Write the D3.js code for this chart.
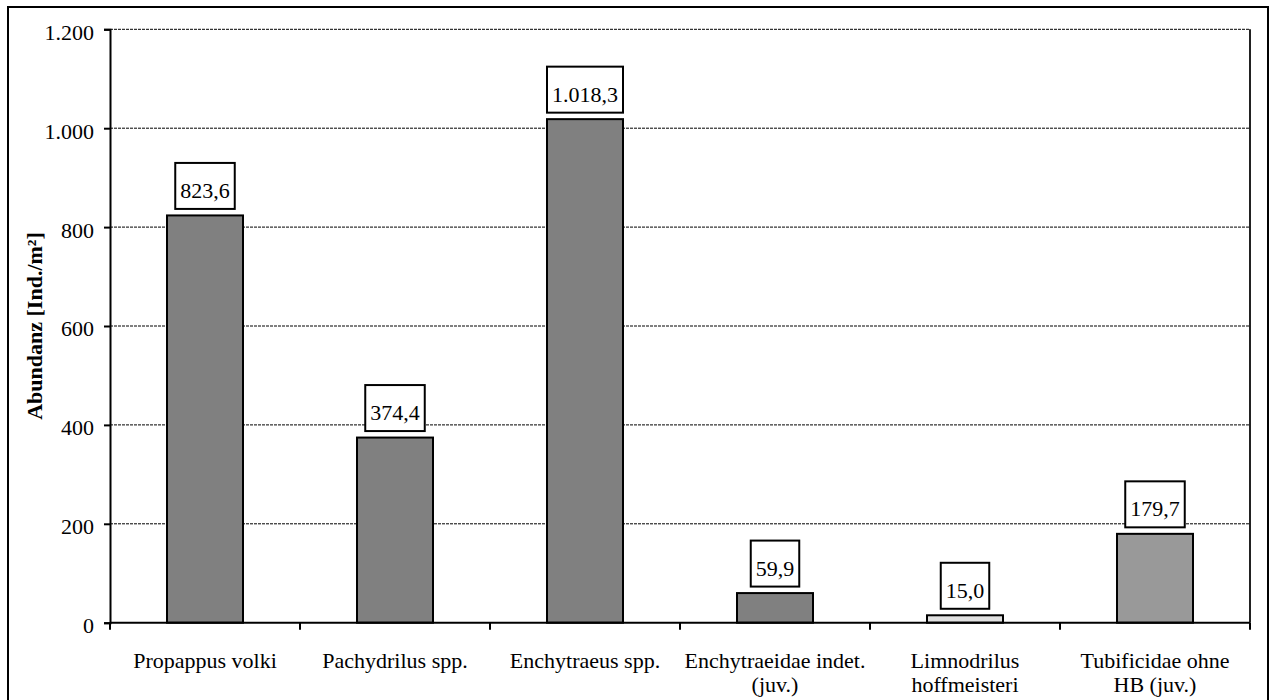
<!DOCTYPE html>
<html>
<head>
<meta charset="utf-8">
<script src="https://cdn.jsdelivr.net/npm/d3@7"></script>
<style>
  html, body { margin: 0; padding: 0; background: #fff; }
  svg { display: block; }
  text { font-family: "Liberation Serif", "Times New Roman", serif; fill: #000; }
</style>
</head>
<body>
<svg id="chart" width="1274" height="700"></svg>
<script>
// ---- data ----
const categories = [
  "Propappus volki",
  "Pachydrilus spp.",
  "Enchytraeus spp.",
  "Enchytraeidae indet.\n(juv.)",
  "Limnodrilus\nhoffmeisteri",
  "Tubificidae ohne\nHB (juv.)"
];
const values = [823.6, 374.4, 1018.3, 59.9, 15.0, 179.7];
const barColors = ["#808080", "#808080", "#808080", "#808080", "#e0e0e0", "#999999"];
const yTicks = [0, 200, 400, 600, 800, 1000, 1200];
const yTitle = "Abundanz [Ind./m²]";

// ---- layout ----
const svg = d3.select("#chart");
const pLeft = 110, pRight = 1250, pTop = 29.3, pBottom = 622.7;

const de = d3.formatLocale({ decimal: ",", thousands: ".", grouping: [3], currency: ["", " €"] });
const fmtTick = de.format(",.0f");
const fmtVal = de.format(",.1f");

const x = d3.scaleBand().domain(categories).range([pLeft, pRight]).paddingInner(0.6).paddingOuter(0.3);
const y = d3.scaleLinear().domain([0, 1200]).range([pBottom, pTop]);

// outer border
svg.append("rect").attr("x", 8).attr("y", 7).attr("width", 1260).attr("height", 700)
  .attr("fill", "none").attr("stroke", "#000").attr("stroke-width", 2);

// gridlines (dashed)
svg.append("g").selectAll("line").data(yTicks.filter(d => d > 0)).join("line")
  .attr("x1", pLeft).attr("x2", pRight)
  .attr("y1", d => y(d)).attr("y2", d => y(d))
  .attr("stroke", "#000").attr("stroke-width", 1).attr("stroke-dasharray", "3,1");

// right plot border
svg.append("line").attr("x1", pRight).attr("x2", pRight).attr("y1", pTop).attr("y2", pBottom)
  .attr("stroke", "#222").attr("stroke-width", 2);

// bars
svg.append("g").selectAll("rect").data(values).join("rect")
  .attr("x", (d, i) => x(categories[i]))
  .attr("y", d => y(d))
  .attr("width", x.bandwidth())
  .attr("height", d => y(0) - y(d))
  .attr("fill", (d, i) => barColors[i])
  .attr("stroke", "#000").attr("stroke-width", 2);

// y axis
const yAxis = d3.axisLeft(y).tickValues(yTicks).tickSize(6).tickPadding(10).tickFormat(fmtTick);
const gy = svg.append("g").attr("transform", `translate(${pLeft},0)`).call(yAxis);
gy.select(".domain").attr("stroke", "#000").attr("stroke-width", 2);
gy.selectAll(".tick line").attr("stroke", "#000").attr("stroke-width", 2);
gy.selectAll(".tick text").attr("font-size", 22).attr("font-family", "Liberation Serif")
  .attr("dy", "0.45em").attr("fill", "#000");

// x axis line and ticks at band boundaries
const step = x.step();
const bounds = categories.map(c => x(c) - step * x.paddingOuter()).concat([pRight]);
svg.append("line").attr("x1", pLeft).attr("x2", pRight).attr("y1", y(0)).attr("y2", y(0))
  .attr("stroke", "#000").attr("stroke-width", 2);
svg.append("g").selectAll("line").data(bounds).join("line")
  .attr("x1", d => d).attr("x2", d => d).attr("y1", y(0)).attr("y2", y(0) + 7)
  .attr("stroke", "#000").attr("stroke-width", 2);

// category labels
const cl = svg.append("g").selectAll("text").data(categories).join("text")
  .attr("x", c => x(c) + x.bandwidth() / 2)
  .attr("y", 668)
  .attr("text-anchor", "middle")
  .attr("font-size", 22);
cl.each(function(c) {
  const lines = c.split("\n");
  const t = d3.select(this);
  lines.forEach((ln, k) => {
    t.append("tspan").attr("x", x(c) + x.bandwidth() / 2).attr("dy", k === 0 ? 0 : 24).text(ln);
  });
});

// y title
svg.append("text").attr("transform", `translate(42,${(pTop + pBottom) / 2}) rotate(-90)`)
  .attr("text-anchor", "middle").attr("font-size", 22).attr("font-weight", "bold").text(yTitle);

// data labels with boxes
const lg = svg.append("g");
values.forEach((v, i) => {
  const cx = x(categories[i]) + x.bandwidth() / 2;
  const boxBottom = y(v) - 6.5;
  const g = lg.append("g");
  const t = g.append("text").attr("x", cx).attr("y", boxBottom - 11)
    .attr("text-anchor", "middle").attr("font-size", 22).text(fmtVal(v));
  const w = t.node().getComputedTextLength() + 10;
  g.insert("rect", "text").attr("x", cx - w / 2).attr("y", boxBottom - 46)
    .attr("width", w).attr("height", 46)
    .attr("fill", "#fff").attr("stroke", "#000").attr("stroke-width", 2);
});
</script>
</body>
</html>
